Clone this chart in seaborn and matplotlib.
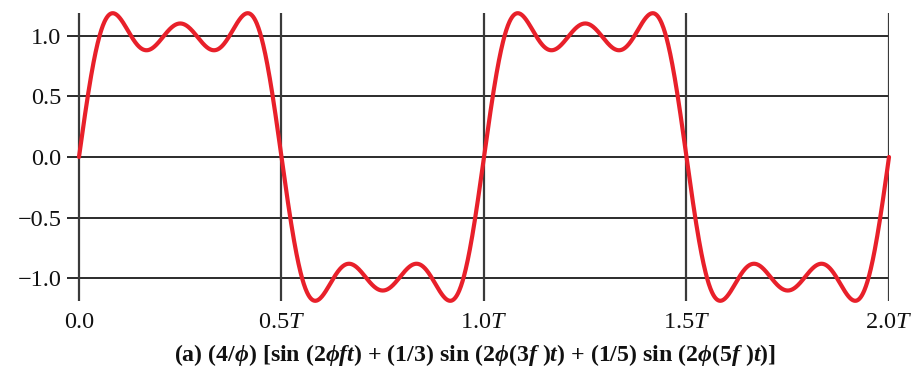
import numpy as np
import pandas as pd
import matplotlib
matplotlib.use("Agg")
import matplotlib.pyplot as plt
import seaborn as sns

# Square-wave partial Fourier sum: (4/pi) * sum(a_k * sin(2*pi*n_k*f*t))
harmonics = [1, 3, 5]
amplitudes = [1.0, 1.0 / 3.0, 1.0 / 5.0]
gain = 4.0 / np.pi

x_ticks = [0.0, 0.5, 1.0, 1.5, 2.0]
x_tick_labels = ["0.0", r"0.5$\mathit{T}$", r"1.0$\mathit{T}$", r"1.5$\mathit{T}$", r"2.0$\mathit{T}$"]
y_ticks = [-1.0, -0.5, 0.0, 0.5, 1.0]
y_tick_labels = ["\u22121.0", "\u22120.5", "0.0", "0.5", "1.0"]

caption = (r"(a) (4/$\mathbfit{ϕ}$) [sin (2$\mathbfit{ϕft}$) + (1/3) sin (2$\mathbfit{ϕ}$(3$\mathbfit{f}$ )$\mathbfit{t}$)"
           r" + (1/5) sin (2$\mathbfit{ϕ}$(5$\mathbfit{f}$ )$\mathbfit{t}$)]")

t = np.linspace(0.0, 2.0, 2001)  # time in units of T
signal = gain * sum(a * np.sin(2 * np.pi * n * t) for n, a in zip(harmonics, amplitudes))
df = pd.DataFrame({"t": t, "v": signal})

sns.set_theme(style="white")
plt.rcParams["font.family"] = ["Liberation Serif", "DejaVu Serif"]
plt.rcParams["mathtext.fontset"] = "custom"
plt.rcParams["mathtext.rm"] = "Liberation Serif"
plt.rcParams["mathtext.it"] = "Liberation Serif:italic"
plt.rcParams["mathtext.bf"] = "Liberation Serif:bold"
plt.rcParams["mathtext.bfit"] = "Liberation Serif:italic:bold"

fig = plt.figure(figsize=(9.15, 3.71), dpi=100)
ax = fig.add_axes([67 / 915, (371 - 301) / 371, (889 - 67) / 915, 288 / 371])

for yv in y_ticks:
    ax.axhline(yv, color="#1a1a1a", lw=1.3, zorder=1)
for xv in x_ticks:
    ax.axvline(xv, color="#3a3a3a", lw=1.6, zorder=1)

sns.lineplot(data=df, x="t", y="v", ax=ax, color="#E8202A", lw=3.0, zorder=3, clip_on=False)

ax.set_xlim(-0.0296, 2.0)
ax.set_ylim(-1.19, 1.19)
for s in ax.spines.values():
    s.set_visible(False)
ax.set_xticks(x_ticks, x_tick_labels)
ax.set_yticks(y_ticks, y_tick_labels)
ax.tick_params(axis="both", length=0, labelsize=17.5, colors="#111111")
ax.tick_params(axis="y", pad=4)
ax.tick_params(axis="x", pad=8)
ax.set_xlabel("")
ax.set_ylabel("")
ax.grid(False)

fig.text(475 / 915, (371 - 355) / 371, caption, ha="center", va="center",
         fontsize=17.2, fontweight="bold", color="#111111")

fig.savefig("out.png", dpi=100)
